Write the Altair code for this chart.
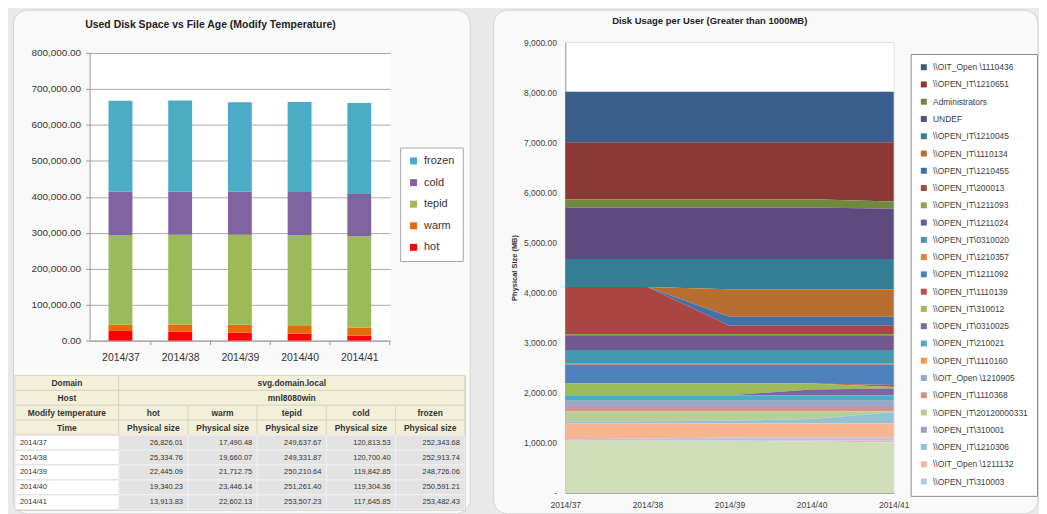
import altair as alt
import pandas as pd

FONT = "Liberation Sans"

# ---------------- left chart data ----------------
weeks = ["2014/37", "2014/38", "2014/39", "2014/40", "2014/41"]
temps = ["hot", "warm", "tepid", "cold", "frozen"]
hot = [26826.01, 25334.76, 22445.09, 19340.23, 13913.83]
warm = [17490.48, 19660.07, 21712.75, 23446.14, 22602.13]
tepid = [249637.67, 249331.87, 250210.64, 251261.40, 253507.23]
cold = [120813.53, 120700.40, 119842.85, 119304.36, 117645.85]
frozen = [252343.68, 252913.74, 248726.06, 250591.21, 253482.43]
temp_colors = ["#ff0000", "#e46c0a", "#9bbb59", "#8064a2", "#4bacc6"]
y_ticks_left = [0, 100000, 200000, 300000, 400000, 500000, 600000, 700000, 800000]

domain_name = "svg.domain.local"
host_name = "mnl8080win"
table_row_heads = ["Domain", "Host", "Modify temperature", "Time"]
measure_name = "Physical size"

# ---------------- right chart data (legend order, top of stack first) ----------------
users = [
    r"\\OIT_Open \1110436",
    r"\\OPEN_IT\1210651",
    "Administrators",
    "UNDEF",
    r"\\OPEN_IT\1210045",
    r"\\OPEN_IT\1110134",
    r"\\OPEN_IT\1210455",
    r"\\OPEN_IT\200013",
    r"\\OPEN_IT\1211093",
    r"\\OPEN_IT\1211024",
    r"\\OPEN_IT\0310020",
    r"\\OPEN_IT\1210357",
    r"\\OPEN_IT\1211092",
    r"\\OPEN_IT\1110139",
    r"\\OPEN_IT\310012",
    r"\\OPEN_IT\0310025",
    r"\\OPEN_IT\210021",
    r"\\OPEN_IT\1110160",
    r"\\OIT_Open \1210905",
    r"\\OPEN_IT\1110368",
    r"\\OPEN_IT\20120000331",
    r"\\OPEN_IT\310001",
    r"\\OPEN_IT\1210306",
    r"\\OIT_Open \1211132",
    r"\\OPEN_IT\310003",
]
# series below the visible legend entries (legend box cut them off)
hidden_users = ["(more users 1)", "(more users 2)"]

user_values = [
    [1010, 1010, 1010, 1010, 1010],
    [1136, 1136, 1136, 1136, 1182],
    [166, 166, 166, 166, 146],
    [1028, 1028, 1028, 1028, 1002],
    [560, 560, 605, 605, 605],
    [0, 0, 550, 550, 550],
    [0, 0, 180, 180, 180],
    [940, 940, 165, 165, 165],
    [24, 24, 24, 24, 24],
    [295, 295, 295, 295, 295],
    [274, 274, 274, 274, 274],
    [20, 20, 20, 20, 20],
    [371, 371, 371, 371, 405],
    [0, 0, 0, 0, 40],
    [239, 239, 239, 120, 26],
    [0, 0, 0, 119, 139],
    [108, 108, 108, 108, 108],
    [5, 5, 5, 5, 5],
    [99, 99, 99, 99, 99],
    [107, 107, 107, 107, 107],
    [200, 195, 185, 149, 15],
    [3, 3, 3, 3, 3],
    [40, 45, 55, 91, 225],
    [312, 299, 279, 273, 272],
    [33, 46, 66, 66, 60],
]
hidden_values = [
    [0, 0, 0, 20, 46],
    [1040, 1040, 1040, 1026, 1007],
]
user_colors = [
    "#3a5e8c", "#8c3836", "#71893f", "#5e4a7c", "#357f95", "#b86e30",
    "#4470a6", "#a94643", "#89a54e", "#71588f", "#4198af", "#db843d",
    "#4f81bd", "#c0504d", "#9bbb59", "#8064a2", "#4bacc6", "#f79646",
    "#93a9cf", "#d19392", "#b9cd96", "#a99bbd", "#92c3d4", "#f9b590",
    "#b9c6df",
]
hidden_colors = ["#e2b9b8", "#d0ddb9"]
y_ticks_right = [0, 1000, 2000, 3000, 4000, 5000, 6000, 7000, 8000, 9000]

PANEL_FILL = "#f9f9f9"
PANEL_LINE = "#d2d2d2"
OUTER_BG = "#e9e9e9"

# ---------------- bar chart ----------------
series = [hot, warm, tepid, cold, frozen]
bar_rows = []
for i, (t, vals) in enumerate(zip(temps, series)):
    for w, v in zip(weeks, vals):
        bar_rows.append({"week": w, "temp": t, "size": v, "k": i})
bar_df = pd.DataFrame(bar_rows)

bar = alt.Chart(bar_df).mark_bar().encode(
    x=alt.X("week:N", sort=weeks,
            scale=alt.Scale(paddingInner=0.6, paddingOuter=0.317),
            axis=alt.Axis(title=None, labelAngle=0, tickOffset=30, labelOffset=-30,
                          tickSize=4, labelPadding=8, labelFontSize=10.5,
                          labelColor="#333333", domainColor="#999999", tickColor="#999999")),
    y=alt.Y("size:Q", stack="zero",
            scale=alt.Scale(domain=[0, 800000], nice=False),
            axis=alt.Axis(title=None, values=y_ticks_left, format=",.2f",
                          labelFontSize=10, labelColor="#333333", tickSize=4,
                          labelPadding=5, gridColor="#a9a9a9", domainColor="#999999",
                          tickColor="#999999")),
    color=alt.Color("temp:N",
                    scale=alt.Scale(domain=temps, range=temp_colors),
                    legend=alt.Legend(title=None, values=temps[::-1], orient="none",
                                      legendX=387, legendY=115, symbolType="square",
                                      symbolSize=49, symbolStrokeWidth=0,
                                      labelFontSize=11, labelColor="#333333",
                                      labelOffset=5, padding=8, rowPadding=9.7,
                                      strokeColor="#a8a8a8", fillColor="#ffffff")),
    order=alt.Order("k:Q"),
).properties(
    width=302, height=289,
    title=alt.TitleParams("Used Disk Space vs File Age (Modify Temperature)",
                          fontSize=10.5, fontWeight="bold", color="#222222",
                          offset=18, anchor="middle", frame="bounds"),
    view=alt.ViewBackground(fill="#ffffff", stroke="transparent"),
)

# ---------------- table ----------------
col_span = [(0.0, 1.5)] + [(1.5 + i, 2.5 + i) for i in range(5)]
cells = []


def add_cell(row, c0, c1, text, kind):
    cells.append({"row": row, "x0": c0, "x1": c1, "text": text, "kind": kind})


add_cell(0, 0.0, 1.5, table_row_heads[0], "head")
add_cell(0, 1.5, 6.5, domain_name, "head")
add_cell(1, 0.0, 1.5, table_row_heads[1], "head")
add_cell(1, 1.5, 6.5, host_name, "head")
add_cell(2, 0.0, 1.5, table_row_heads[2], "head")
for j, t in enumerate(temps):
    add_cell(2, col_span[j + 1][0], col_span[j + 1][1], t, "head")
add_cell(3, 0.0, 1.5, table_row_heads[3], "head")
for j in range(5):
    add_cell(3, col_span[j + 1][0], col_span[j + 1][1], measure_name, "head")
for r, w in enumerate(weeks):
    add_cell(4 + r, 0.0, 1.5, w, "label")
    for j, vals in enumerate(series):
        add_cell(4 + r, col_span[j + 1][0], col_span[j + 1][1], f"{vals[r]:,.2f}", "value")

tdf = pd.DataFrame(cells)
fills = {"head": "#f3f0da", "label": "#ffffff", "value": "#e3e3e3"}
lines = {"head": "#d6d2bc", "label": "#d8d8d8", "value": "#f4f4f4"}
tdf["bg"] = tdf["kind"].map(fills)
tdf["line"] = tdf["kind"].map(lines)
tdf["xc"] = (tdf["x0"] + tdf["x1"]) / 2

xs = alt.Scale(domain=[0, 6.5], nice=False, zero=False)
ys = alt.Scale(domain=list(range(9)), paddingInner=0, paddingOuter=0)

tbase = alt.Chart(tdf)
t_rect = tbase.mark_rect(strokeWidth=0.8).encode(
    x=alt.X("x0:Q", scale=xs, axis=None),
    x2="x1:Q",
    y=alt.Y("row:O", scale=ys, axis=None),
    color=alt.Color("bg:N", scale=None),
    stroke=alt.Stroke("line:N", scale=None),
)
t_head = tbase.transform_filter(alt.datum.kind == "head").mark_text(
    fontSize=8.5, fontWeight="bold", color="#333333", align="center", baseline="middle"
).encode(x=alt.X("xc:Q", scale=xs, axis=None), y=alt.Y("row:O", scale=ys, axis=None), text="text:N")
t_label = tbase.transform_filter(alt.datum.kind == "label").mark_text(
    fontSize=7.5, color="#333333", align="left", baseline="middle", dx=5
).encode(x=alt.X("x0:Q", scale=xs, axis=None), y=alt.Y("row:O", scale=ys, axis=None), text="text:N")
t_value = tbase.transform_filter(alt.datum.kind == "value").mark_text(
    fontSize=7.5, color="#333333", align="right", baseline="middle", dx=-5
).encode(x=alt.X("x1:Q", scale=xs, axis=None), y=alt.Y("row:O", scale=ys, axis=None), text="text:N")

table = alt.layer(t_rect, t_head, t_label, t_value).properties(
    width=452, height=135,
    view=alt.ViewBackground(fill="transparent", stroke="#c4c4c4"),
)

# panel backgrounds (decoration), drawn before the charts of each column
panel_src = pd.DataFrame({"s": [0]})
left_panel = alt.Chart(panel_src).mark_rect(
    cornerRadius=14, fill=PANEL_FILL, stroke=PANEL_LINE, strokeWidth=1
).encode(
    x=alt.value(-1.5), x2=alt.value(457.5), y=alt.value(-23), y2=alt.value(483)
).properties(width=1, height=1, view=alt.ViewBackground(stroke="transparent"))

right_panel = alt.Chart(panel_src).mark_rect(
    cornerRadius=14, fill=PANEL_FILL, stroke=PANEL_LINE, strokeWidth=1
).encode(
    x=alt.value(-72), x2=alt.value(475), y=alt.value(-23), y2=alt.value(483)
).properties(width=1, height=1, view=alt.ViewBackground(stroke="transparent"))

# ---------------- area chart ----------------
all_users = users + hidden_users
all_values = user_values + hidden_values
all_colors = user_colors + hidden_colors
n = len(all_users)
area_rows = []
for i, (u, vals) in enumerate(zip(all_users, all_values)):
    for w, v in zip(weeks, vals):
        area_rows.append({"week": w, "user": u, "mb": v, "k": n - i})
area_df = pd.DataFrame(area_rows)

zero_label = "-\u00a0\u00a0"
area = alt.Chart(area_df).mark_area(interpolate="linear").encode(
    x=alt.X("week:O", sort=weeks, scale=alt.Scale(padding=0),
            axis=alt.Axis(title=None, labelAngle=0, ticks=False, labelPadding=8,
                          labelFontSize=8.5, labelColor="#404040", domainColor="#a0a0a0")),
    y=alt.Y("mb:Q", stack="zero", scale=alt.Scale(domain=[0, 9000], nice=False),
            axis=alt.Axis(title="Physical Size (MB)", values=y_ticks_right, grid=False,
                          ticks=False, labelPadding=9, labelFontSize=8.5,
                          labelColor="#404040", domainColor="#a0a0a0",
                          labelExpr="datum.value == 0 ? '" + zero_label + "' : format(datum.value, ',.2f')",
                          titleFontSize=7.5, titleFontWeight="bold", titleColor="#333333",
                          titlePadding=5)),
    color=alt.Color("user:N",
                    scale=alt.Scale(domain=all_users, range=all_colors),
                    legend=alt.Legend(title=None, values=users, orient="none",
                                      legendX=347, legendY=21, symbolType="square",
                                      symbolSize=36, symbolStrokeWidth=0,
                                      labelFontSize=8.5, labelColor="#404040",
                                      labelOffset=5, padding=9, rowPadding=8.35,
                                      labelLimit=200,
                                      strokeColor="#8a8a8a", fillColor="#ffffff")),
    order=alt.Order("k:Q"),
).properties(
    width=330, height=453,
    title=alt.TitleParams("Disk Usage per User (Greater than 1000MB)",
                          fontSize=9.5, fontWeight="bold", color="#222222",
                          offset=13, anchor="middle", frame="bounds"),
    view=alt.ViewBackground(fill="#ffffff", stroke="#dedede"),
)

left = alt.vconcat(
    left_panel,
    alt.vconcat(bar, table, spacing=35, center=True, bounds="flush"),
    spacing=19, bounds="flush",
)
right = alt.vconcat(right_panel, area, spacing=8, bounds="flush")

chart = alt.hconcat(left, right, spacing=21).resolve_scale(
    color="independent"
).properties(
    padding={"left": 4, "top": 0, "right": 0, "bottom": 0},
    background=OUTER_BG,
).configure(font=FONT)

chart.save("out.html", embed_options={"renderer": "svg", "actions": False})
